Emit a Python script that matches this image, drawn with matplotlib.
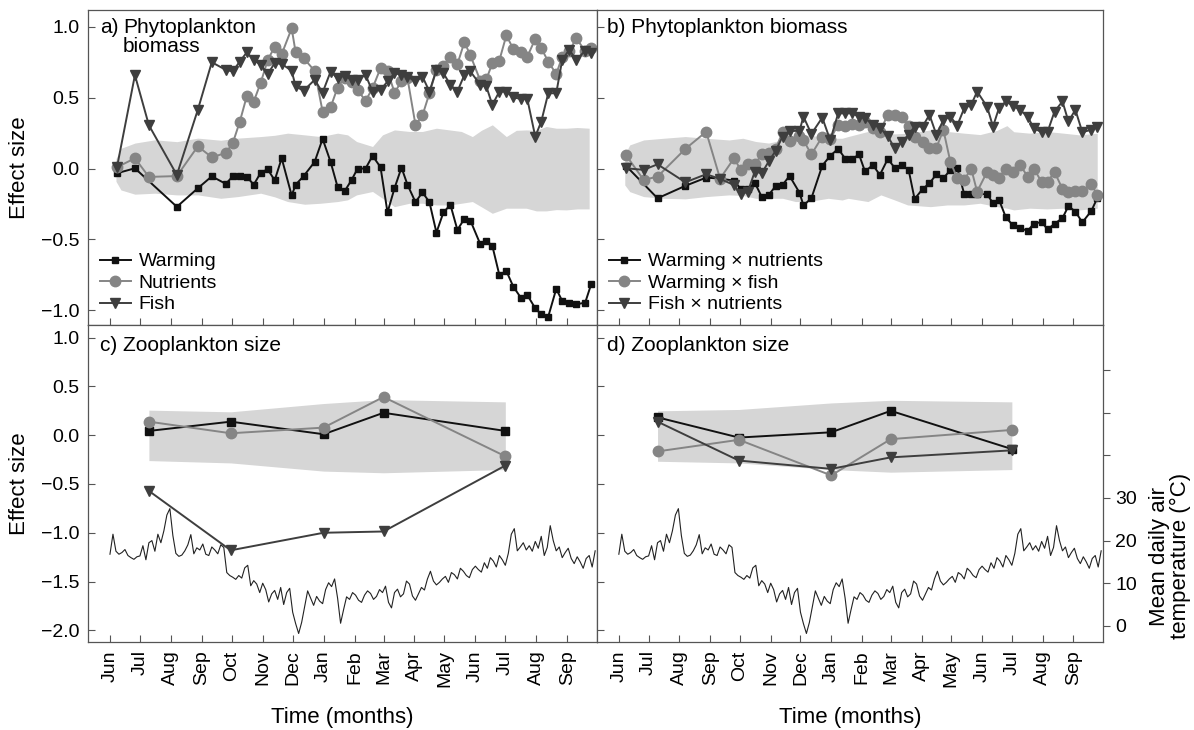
import numpy as np
import matplotlib
matplotlib.use('Agg')
import matplotlib.pyplot as plt
import matplotlib.dates as mdates
from matplotlib.ticker import FixedLocator, FuncFormatter

plt.rcParams['font.family'] = ['Liberation Sans', 'DejaVu Sans']
plt.rcParams['axes.unicode_minus'] = True

START = np.datetime64('2003-06-01')
X_END = np.datetime64('2004-09-30T20:00')

# phytoplankton sampling dates, days after 1 June 2003
phyto_days = [7, 25, 39, 67, 88, 102, 116, 123, 130, 137, 144, 151, 158, 165, 172,
              182, 186, 194, 205, 213, 221, 228, 235, 242, 248, 256, 263, 271, 278,
              285, 292, 298, 306, 313, 320, 327, 334, 341, 348, 355, 361, 371, 377,
              383, 390, 397, 404, 412, 418, 426, 432, 439, 447, 453, 460, 467, 476, 482]

# a) main effects
warming = [-0.033, 0.002, np.nan, -0.27, -0.139, -0.055, -0.108, -0.055, -0.053, -0.057,
           -0.114, -0.029, -0.005, -0.083, 0.073, -0.19, -0.114, -0.053, 0.047, 0.21,
           0.047, -0.13, -0.16, -0.081, 0.0, 0.0, 0.09, 0.01, -0.31, -0.139,
           0.007, -0.114, -0.237, -0.168, -0.237, -0.452, -0.31, -0.256, -0.433, -0.355,
           -0.367, -0.535, -0.509, -0.546, -0.751, -0.723, -0.834, -0.917, -0.893, -0.987,
           -1.03, -1.046, -0.85, -0.935, -0.947, -0.959, -0.947, -0.817]
nutrients = [0.009, 0.073, -0.059, -0.053, 0.157, 0.08, 0.11, 0.18, 0.33, 0.51,
             0.473, 0.607, 0.765, 0.862, 0.808, 0.99, 0.82, 0.78, 0.69, 0.403,
             0.433, 0.572, 0.643, 0.61, 0.556, 0.478, 0.568, 0.709, 0.69, 0.537,
             0.615, 0.638, 0.309, 0.375, 0.532, 0.697, 0.721, 0.79, 0.737, 0.893,
             0.8, 0.62, 0.63, 0.744, 0.763, 0.94, 0.846, 0.822, 0.79, 0.916,
             0.85, 0.756, 0.667, 0.79, 0.827, 0.921, 0.83, 0.85]
fish = [0.009, 0.66, 0.306, -0.045, 0.415, 0.751, 0.697, 0.686, 0.756, 0.82,
        0.768, 0.733, 0.669, 0.744, 0.74, 0.69, 0.58, 0.55, 0.627, 0.537,
        0.685, 0.638, 0.657, 0.627, 0.627, 0.662, 0.544, 0.556, 0.615, 0.674,
        0.662, 0.65, 0.615, 0.65, 0.544, 0.697, 0.674, 0.591, 0.544, 0.662,
        0.686, 0.591, 0.58, 0.45, 0.544, 0.544, 0.502, 0.492, 0.492, 0.226,
        0.332, 0.532, 0.532, 0.768, 0.839, 0.768, 0.832, 0.815]

# b) interactions
warm_x_nut = [0.021, np.nan, -0.21, -0.122, -0.064, -0.071, -0.085, -0.146, -0.144, -0.1,
              -0.2, -0.186, -0.124, -0.115, -0.052, -0.17, -0.26, -0.21, 0.021, 0.09,
              0.14, 0.071, 0.066, 0.1, -0.02, 0.025, -0.045, 0.068, 0.005, 0.025,
              -0.01, -0.215, -0.145, -0.104, -0.04, -0.069, -0.01, 0.002, -0.18, -0.18,
              -0.18, -0.18, -0.245, -0.22, -0.345, -0.4, -0.42, -0.44, -0.39, -0.377,
              -0.43, -0.39, -0.35, -0.265, -0.304, -0.38, -0.3, -0.21]
warm_x_fish = [0.097, -0.08, -0.057, 0.139, 0.26, -0.071, 0.072, -0.01, 0.03, 0.03,
               0.1, 0.107, 0.14, 0.257, 0.195, 0.23, 0.2, 0.1, 0.225, 0.209,
               0.309, 0.304, 0.313, 0.309, 0.327, 0.29, 0.26, 0.38, 0.38, 0.366,
               0.3, 0.22, 0.19, 0.148, 0.148, 0.273, 0.049, -0.069, -0.08, 0.0,
               -0.163, -0.024, -0.047, -0.064, 0.0, -0.024, 0.028, -0.057, 0.0, -0.094,
               -0.094, -0.024, -0.144, -0.167, -0.158, -0.158, -0.11, -0.186]
fish_x_nut = [0.002, -0.009, 0.03, -0.097, -0.04, -0.073, -0.116, -0.181, -0.163, -0.021,
              -0.033, 0.05, 0.125, 0.226, 0.266, 0.266, 0.367, 0.245, 0.36, 0.2,
              0.39, 0.39, 0.39, 0.367, 0.356, 0.309, 0.29, 0.227, 0.144, 0.191,
              0.238, 0.297, 0.297, 0.38, 0.238, 0.344, 0.367, 0.304, 0.427, 0.45,
              0.544, 0.438, 0.297, 0.427, 0.474, 0.445, 0.415, 0.367, 0.285, 0.257,
              0.26, 0.403, 0.474, 0.333, 0.415, 0.257, 0.274, 0.297]

# null-model bands (95% range) for phytoplankton
band_a_days = [6, 11, 25, 45, 67, 88, 111, 128, 151, 165, 178, 195, 211, 228, 238, 247, 263, 273,
               285, 300, 313, 327, 340, 352, 363, 372, 383, 397, 407, 417, 427, 437, 447, 457, 468, 480]
band_a_hi = [0.07, 0.143, 0.18, 0.203, 0.19, 0.215, 0.2, 0.215, 0.226, 0.235, 0.25, 0.238, 0.226,
             0.25, 0.238, 0.191, 0.156, 0.238, 0.273, 0.262, 0.262, 0.285, 0.273, 0.262, 0.226,
             0.27, 0.309, 0.226, 0.27, 0.273, 0.27, 0.297, 0.285, 0.285, 0.29, 0.285]
band_a_lo = [-0.09, -0.151, -0.181, -0.174, -0.186, -0.186, -0.21, -0.198, -0.174, -0.2, -0.233,
             -0.252, -0.245, -0.233, -0.221, -0.186, -0.162, -0.21, -0.269, -0.245, -0.245,
             -0.257, -0.257, -0.245, -0.233, -0.27, -0.316, -0.28, -0.28, -0.28, -0.299,
             -0.299, -0.29, -0.292, -0.285, -0.285]
band_b_days = [6, 11, 25, 45, 67, 88, 111, 125, 138, 151, 165, 178, 191, 211, 225, 231, 251, 264,
               278, 291, 314, 331, 348, 364, 381, 391, 398, 414, 431, 448, 464, 482]
band_b_hi = [0.1, 0.167, 0.202, 0.214, 0.226, 0.214, 0.202, 0.214, 0.191, 0.18, 0.202, 0.214,
             0.238, 0.214, 0.214, 0.226, 0.262, 0.25, 0.245, 0.25, 0.273, 0.262, 0.25, 0.24,
             0.27, 0.303, 0.26, 0.25, 0.262, 0.25, 0.238, 0.25]
band_b_lo = [-0.116, -0.163, -0.198, -0.21, -0.214, -0.198, -0.186, -0.19, -0.21, -0.21, -0.21,
             -0.233, -0.233, -0.21, -0.222, -0.21, -0.233, -0.186, -0.222, -0.257, -0.269,
             -0.257, -0.257, -0.245, -0.269, -0.28, -0.292, -0.28, -0.285, -0.28, -0.292, -0.28]

# zooplankton sampling
zoo_days = [39, 121, 214, 274, 396]
zoo_warming = [0.044, 0.139, 0.01, 0.23, 0.044]
zoo_nutrients = [0.139, 0.02, 0.078, 0.392, -0.216]
zoo_fish = [-0.571, -1.18, -1.0, -0.987, -0.311]
zoo_band_c_hi = [0.257, 0.24, 0.325, 0.365, 0.342]
zoo_band_c_lo = [-0.26, -0.284, -0.368, -0.385, -0.352]
zoo_warm_x_nut = [0.183, -0.024, 0.03, 0.25, -0.142]
zoo_warm_x_fish = [-0.166, -0.047, -0.412, -0.04, 0.054]
zoo_fish_x_nut = [0.139, -0.26, -0.345, -0.227, -0.155]
zoo_band_d_hi = [0.25, 0.264, 0.331, 0.358, 0.342]
zoo_band_d_lo = [-0.267, -0.284, -0.352, -0.379, -0.352]

# mean daily air temperature, every 3rd day from 1 June 2003
temp_step = 3
temp_c = [16.8, 21.5, 17.5, 16.8, 17.2, 17.9, 16.5, 16.0, 15.6, 16.2, 16.4, 18.8, 15.5, 19.5,
          20.0, 17.5, 21.5, 19.5, 22.3, 26.0, 27.5, 21.2, 17.0, 16.3, 16.6, 17.6, 19.0, 21.4,
          16.9, 18.3, 17.8, 19.2, 16.8, 16.5, 18.5, 17.8, 16.9, 19.0, 18.4, 12.5, 11.8, 11.4,
          10.9, 11.8, 11.2, 13.6, 14.2, 9.4, 10.6, 9.8, 7.8, 10.0, 8.5, 5.6, 7.5, 8.3,
          6.2, 9.0, 5.0, 7.8, 8.8, 3.2, 0.5, -1.8, 0.8, 4.5, 8.2, 6.5, 4.8, 6.9,
          5.8, 5.2, 8.5, 10.1, 9.2, 11.0, 6.5, 0.6, 3.8, 6.8, 6.2, 7.8, 7.2, 6.0,
          5.5, 7.2, 8.2, 7.6, 6.2, 6.9, 8.5, 7.8, 9.3, 5.5, 4.2, 7.8, 8.6, 6.8,
          7.5, 10.5, 9.8, 7.0, 6.0, 7.5, 9.0, 8.4, 11.0, 12.8, 10.5, 9.6, 10.2, 11.0,
          11.6, 10.2, 12.5, 12.0, 11.0, 13.5, 12.8, 11.8, 11.3, 13.2, 14.0, 13.2, 12.6, 14.8,
          13.5, 16.0, 15.2, 13.8, 16.5, 15.5, 14.2, 17.0, 21.5, 22.8, 17.6, 18.5, 19.5, 17.8,
          18.8, 17.5, 19.8, 18.2, 21.0, 16.5, 18.4, 23.5, 20.0, 17.6, 18.5, 16.0, 17.2, 18.2,
          15.8, 14.6, 16.2, 15.0, 13.5, 15.8, 16.5, 13.8, 17.6]

C_BLACK = '#111111'
C_GREY = '#858585'
C_DARK = '#3e3e3e'
C_BAND = '#d6d6d6'
C_SPINE = '#555555'


def to_dates(days):
    return START + np.asarray(days, dtype='timedelta64[D]')


def plot_series(ax, days, vals, color, marker, ms, label):
    vals = np.asarray(vals, dtype=float)
    ok = ~np.isnan(vals)
    ax.plot(to_dates(np.asarray(days)[ok]), vals[ok], color=color, marker=marker,
            ms=ms, lw=1.4, mec=color, mfc=color, label=label)


def style_axis(ax, ylim, yticks, show_ylabels, show_xlabels):
    ax.set_xlim(START - np.timedelta64(22, 'D'), X_END)
    ax.set_ylim(*ylim)
    ax.set_yticks(yticks)
    ax.xaxis.set_major_locator(mdates.MonthLocator())
    ax.xaxis.set_major_formatter(mdates.DateFormatter('%b'))
    ax.tick_params(direction='in', length=5, width=0.8, color=C_SPINE, labelsize=14)
    ax.tick_params(axis='y', labelleft=show_ylabels, pad=6)
    ax.tick_params(axis='x', labelbottom=show_xlabels, rotation=90, pad=6)
    for s in ax.spines.values():
        s.set_color(C_SPINE)
        s.set_linewidth(0.9)


fig = plt.figure(figsize=(11.94, 7.30), dpi=100)
L, M, R = 88 / 1194, 597 / 1194, 1103 / 1194
top_b, top_h = 1 - 325 / 730, 315 / 730
bot_b, bot_h = 1 - 642 / 730, 317 / 730

ax_a = fig.add_axes([L, top_b, M - L, top_h])
ax_b = fig.add_axes([M, top_b, R - M, top_h], sharey=ax_a)
ax_c = fig.add_axes([L, bot_b, M - L, bot_h])
ax_d = fig.add_axes([M, bot_b, R - M, bot_h], sharey=ax_c)

yl_top = (-1.105, 1.12)
yl_bot = (-2.12, 1.13)
style_axis(ax_a, yl_top, [-1.0, -0.5, 0.0, 0.5, 1.0], True, False)
style_axis(ax_b, yl_top, [-1.0, -0.5, 0.0, 0.5, 1.0], False, False)
style_axis(ax_c, yl_bot, [-2.0, -1.5, -1.0, -0.5, 0.0, 0.5, 1.0], True, True)
style_axis(ax_d, yl_bot, [-2.0, -1.5, -1.0, -0.5, 0.0, 0.5, 1.0], False, True)

yfmt = FuncFormatter(lambda v, p: f'{v:.1f}'.replace('-', '\u2212'))
ax_a.yaxis.set_major_formatter(yfmt)
ax_c.yaxis.set_major_formatter(yfmt)

# a) phytoplankton, main effects
ax_a.fill_between(to_dates(band_a_days), band_a_lo, band_a_hi, color=C_BAND, lw=0, zorder=0)
plot_series(ax_a, phyto_days, warming, C_BLACK, 's', 4, 'Warming')
plot_series(ax_a, phyto_days, nutrients, C_GREY, 'o', 7.5, 'Nutrients')
plot_series(ax_a, phyto_days, fish, C_DARK, 'v', 7, 'Fish')

# b) phytoplankton, interactions
ax_b.fill_between(to_dates(band_b_days), band_b_lo, band_b_hi, color=C_BAND, lw=0, zorder=0)
plot_series(ax_b, phyto_days, warm_x_nut, C_BLACK, 's', 4, 'Warming \u00d7 nutrients')
plot_series(ax_b, phyto_days, warm_x_fish, C_GREY, 'o', 7.5, 'Warming \u00d7 fish')
plot_series(ax_b, phyto_days, fish_x_nut, C_DARK, 'v', 7, 'Fish \u00d7 nutrients')

# temperature on twin axes of the lower panels
temp_dates = to_dates(np.arange(len(temp_c)) * temp_step)
for ax in (ax_c, ax_d):
    tw = ax.twinx()
    tw.plot(temp_dates, temp_c, color='#222222', lw=0.8)
    tw.set_ylim(-3.8, 70.6)
    for s in tw.spines.values():
        s.set_visible(False)
    if ax is ax_c:
        tw.tick_params(right=False, labelright=False)
    else:
        tw.yaxis.set_major_locator(FixedLocator([0, 10, 20, 30, 40, 50, 60]))
        tw.yaxis.set_major_formatter(FuncFormatter(lambda v, p: f'{v:.0f}' if v <= 30 else ''))
        tw.tick_params(direction='out', length=5, width=0.8, color=C_SPINE, labelsize=14, pad=4)
        tw.set_ylabel('Mean daily air\ntemperature (\u00b0C)', fontsize=16, linespacing=1.0)
        tw.yaxis.set_label_coords(1.09, 0.27)

# c) zooplankton, main effects
ax_c.fill_between(to_dates(zoo_days), zoo_band_c_lo, zoo_band_c_hi, color=C_BAND, lw=0, zorder=0)
plot_series(ax_c, zoo_days, zoo_warming, C_BLACK, 's', 6, 'Warming')
plot_series(ax_c, zoo_days, zoo_nutrients, C_GREY, 'o', 7.5, 'Nutrients')
plot_series(ax_c, zoo_days, zoo_fish, C_DARK, 'v', 7, 'Fish')

# d) zooplankton, interactions
ax_d.fill_between(to_dates(zoo_days), zoo_band_d_lo, zoo_band_d_hi, color=C_BAND, lw=0, zorder=0)
plot_series(ax_d, zoo_days, zoo_warm_x_nut, C_BLACK, 's', 6, 'Warming \u00d7 nutrients')
plot_series(ax_d, zoo_days, zoo_warm_x_fish, C_GREY, 'o', 7.5, 'Warming \u00d7 fish')
plot_series(ax_d, zoo_days, zoo_fish_x_nut, C_DARK, 'v', 7, 'Fish \u00d7 nutrients')

# panel titles
ax_a.text(0.023, 0.975, 'a)', transform=ax_a.transAxes, fontsize=15, va='top')
ax_a.text(0.069, 0.975, 'Phytoplankton\nbiomass', transform=ax_a.transAxes, fontsize=15,
          va='top', linespacing=1.0)
ax_b.text(0.02, 0.975, 'b) Phytoplankton biomass', transform=ax_b.transAxes, fontsize=15, va='top')
ax_c.text(0.023, 0.965, 'c) Zooplankton size', transform=ax_c.transAxes, fontsize=15, va='top')
ax_d.text(0.02, 0.965, 'd) Zooplankton size', transform=ax_d.transAxes, fontsize=15, va='top')

for ax in (ax_a, ax_b):
    ax.legend(loc='lower left', frameon=False, fontsize=14, handlelength=1.6,
              handletextpad=0.4, labelspacing=0.2, borderaxespad=0.4, borderpad=0.2)

ax_a.set_ylabel('Effect size', fontsize=16, labelpad=8)
ax_c.set_ylabel('Effect size', fontsize=16, labelpad=8)
ax_c.set_xlabel('Time (months)', fontsize=16, labelpad=14)
ax_d.set_xlabel('Time (months)', fontsize=16, labelpad=14)

fig.savefig('out.png', dpi=100)
